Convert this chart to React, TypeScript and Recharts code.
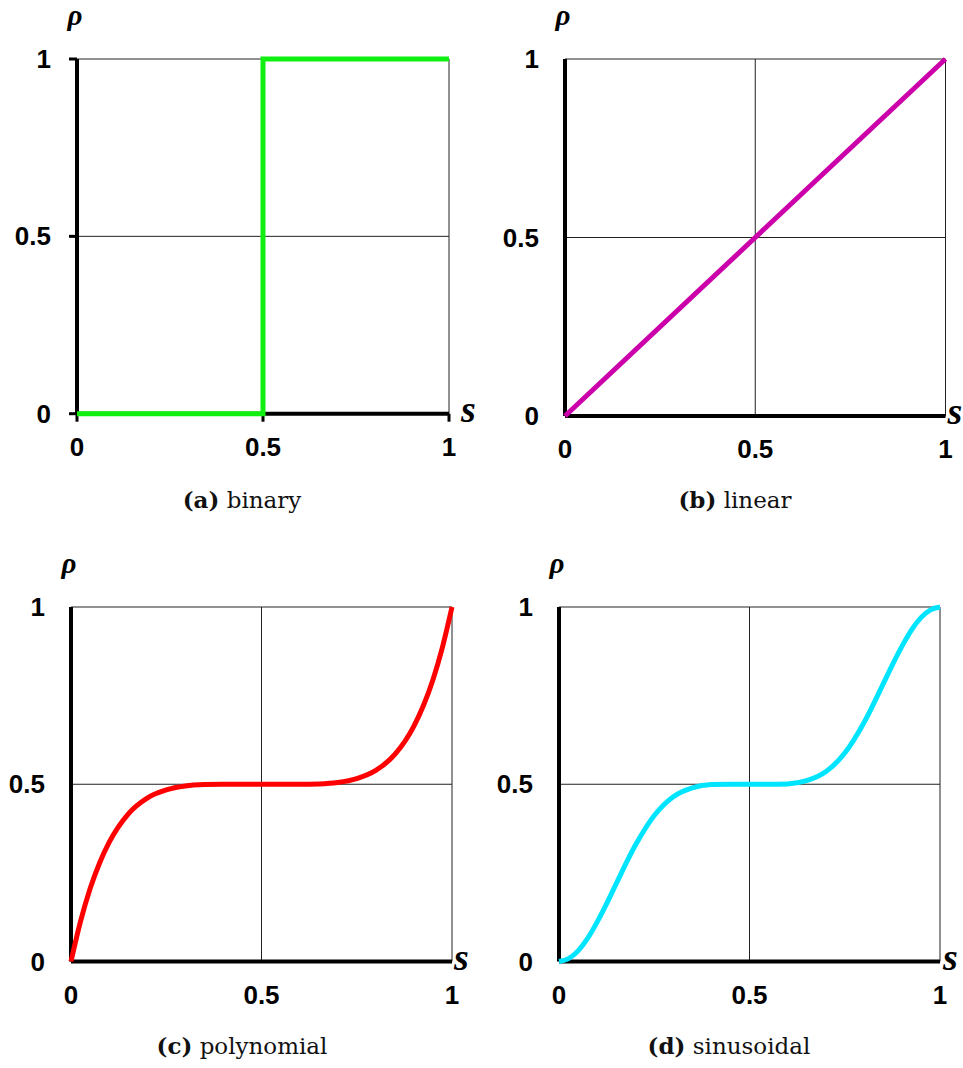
import { CartesianGrid, Line, LineChart, XAxis, YAxis } from "recharts";

// axis ticks shared by all four panels
const AXIS_TICKS = [0, 0.5, 1];
const TICK_LABELS = ["0", "0.5", "1"];

// (a) binary
const BINARY_S = [0, 0.5, 0.5, 1];
const BINARY_RHO = [0, 0, 1, 1];

// (b) linear
const LINEAR_S = [0, 0.5, 1];
const LINEAR_RHO = [0, 0.5, 1];

// (c) polynomial
const POLY_S = [
  0, 0.025, 0.05, 0.075, 0.1, 0.15, 0.2, 0.25, 0.3, 0.35, 0.4, 0.45, 0.5,
  0.55, 0.6, 0.65, 0.7, 0.75, 0.8, 0.85, 0.9, 0.925, 0.95, 0.975, 1,
];
const POLY_RHO = [
  0, 0.113, 0.205, 0.278, 0.336, 0.416, 0.461, 0.484, 0.495, 0.499, 0.5, 0.5, 0.5,
  0.5, 0.5, 0.501, 0.505, 0.516, 0.539, 0.584, 0.664, 0.722, 0.795, 0.887, 1,
];

// (d) sinusoidal
const SINE_S = [
  0, 0.025, 0.05, 0.075, 0.1, 0.125, 0.15, 0.2, 0.25, 0.3, 0.35, 0.4, 0.45, 0.5,
  0.55, 0.6, 0.65, 0.7, 0.75, 0.8, 0.85, 0.875, 0.9, 0.925, 0.95, 0.975, 1,
];
const SINE_RHO = [
  0, 0.008, 0.03, 0.065, 0.111, 0.163, 0.219, 0.327, 0.412, 0.465, 0.49, 0.499, 0.5, 0.5,
  0.5, 0.501, 0.51, 0.535, 0.588, 0.673, 0.781, 0.837, 0.889, 0.935, 0.97, 0.992, 1,
];

const zip = (s: number[], rho: number[]) => s.map((v, i) => ({ s: v, rho: rho[i] }));
const tickText = (v: number) => TICK_LABELS[AXIS_TICKS.indexOf(v)] ?? String(v);

const Y_W = 50;
const X_H = 50;
const SANS = "'Liberation Sans', Arimo, Arial, Helvetica, sans-serif";
const SERIF = "'Liberation Serif', 'Times New Roman', Times, serif";

const PANELS = [
  {
    key: "a",
    data: zip(BINARY_S, BINARY_RHO),
    color: "#10f010",
    curve: "linear",
    ticks: true,
    tag: "(a)",
    name: "binary",
    box: { x: 0, y: 0, w: 481, h: 530 },
    plot: { l: 77, t: 59, r: 449, b: 413.7 },
    sGap: 12,
    cap: { x: 242, y: 508 },
  },
  {
    key: "b",
    data: zip(LINEAR_S, LINEAR_RHO),
    color: "#cc00aa",
    curve: "linear",
    ticks: false,
    tag: "(b)",
    name: "linear",
    box: { x: 481, y: 0, w: 482, h: 530 },
    plot: { l: 565, t: 59, r: 945.5, b: 416 },
    sGap: 2,
    cap: { x: 735, y: 508 },
  },
  {
    key: "c",
    data: zip(POLY_S, POLY_RHO),
    color: "#ff0000",
    curve: "monotone",
    ticks: false,
    tag: "(c)",
    name: "polynomial",
    box: { x: 0, y: 540, w: 481, h: 528 },
    plot: { l: 71, t: 607, r: 452, b: 961.5 },
    sGap: 2,
    cap: { x: 242, y: 1054 },
  },
  {
    key: "d",
    data: zip(SINE_S, SINE_RHO),
    color: "#00e5ff",
    curve: "monotone",
    ticks: false,
    tag: "(d)",
    name: "sinusoidal",
    box: { x: 481, y: 540, w: 482, h: 528 },
    plot: { l: 559, t: 607, r: 940, b: 961.5 },
    sGap: 3,
    cap: { x: 729, y: 1054 },
  },
];

type PanelCfg = (typeof PANELS)[number];

const YTick = (props: any) => (
  <text
    x={props.x}
    y={props.y}
    dy={9}
    textAnchor="end"
    fill="#000"
    style={{ fontFamily: SANS, fontWeight: 700, fontSize: 26 }}
  >
    {tickText(props.payload.value)}
  </text>
);

const XTick = (props: any) => (
  <text
    x={props.x}
    y={props.y}
    dy={18}
    textAnchor="middle"
    fill="#000"
    style={{ fontFamily: SANS, fontWeight: 700, fontSize: 26 }}
  >
    {tickText(props.payload.value)}
  </text>
);

function Panel({ cfg }: { cfg: PanelCfg }) {
  const { box, plot } = cfg;
  const margin = {
    top: plot.t - box.y,
    left: plot.l - box.x - Y_W,
    right: box.x + box.w - plot.r,
    bottom: box.y + box.h - plot.b - X_H,
  };
  const tickLine = cfg.ticks ? { stroke: "#000", strokeWidth: 3 } : false;
  return (
    <div style={{ position: "absolute", left: box.x, top: box.y }}>
      <LineChart width={box.w} height={box.h} data={cfg.data} margin={margin}>
        <CartesianGrid stroke="#222" strokeWidth={1} />
        <XAxis
          dataKey="s"
          type="number"
          domain={[0, 1]}
          ticks={AXIS_TICKS}
          height={X_H}
          axisLine={{ stroke: "#000", strokeWidth: 4 }}
          tickLine={tickLine}
          tickSize={8}
          tickMargin={16}
          tick={<XTick />}
        />
        <YAxis
          type="number"
          domain={[0, 1]}
          ticks={AXIS_TICKS}
          width={Y_W}
          axisLine={{ stroke: "#000", strokeWidth: 4 }}
          tickLine={tickLine}
          tickSize={8}
          tickMargin={18}
          tick={<YTick />}
        />
        <Line
          dataKey="rho"
          type={cfg.curve as any}
          stroke={cfg.color}
          strokeWidth={5}
          dot={false}
          activeDot={false}
          isAnimationActive={false}
          {...({ zIndex: 1000 } as any)}
        />
      </LineChart>
    </div>
  );
}

export default function App() {
  return (
    <div style={{ position: "absolute", left: 0, top: 0, width: 963, height: 1068, background: "#fff" }}>
      {PANELS.map((p) => (
        <Panel key={p.key} cfg={p} />
      ))}
      <svg
        width={963}
        height={1068}
        style={{ position: "absolute", left: 0, top: 0, pointerEvents: "none" }}
      >
        {PANELS.map((p) => (
          <g key={p.key}>
            <text
              x={p.plot.l - 2}
              y={p.plot.t - 34}
              textAnchor="middle"
              style={{ fontFamily: SERIF, fontStyle: "italic", fontWeight: 700, fontSize: 29 }}
            >
              ρ
            </text>
            <text
              x={p.plot.r + p.sGap}
              y={p.plot.b + 8}
              style={{ fontFamily: SERIF, fontStyle: "italic", fontWeight: 700, fontSize: 38 }}
            >
              s
            </text>
            <text
              x={p.cap.x}
              y={p.cap.y}
              textAnchor="middle"
              fill="#111"
              style={{ fontFamily: "'DejaVu Serif', serif", fontSize: 23 }}
            >
              <tspan fontWeight={700}>{p.tag}</tspan>
              <tspan> {p.name}</tspan>
            </text>
          </g>
        ))}
      </svg>
    </div>
  );
}
